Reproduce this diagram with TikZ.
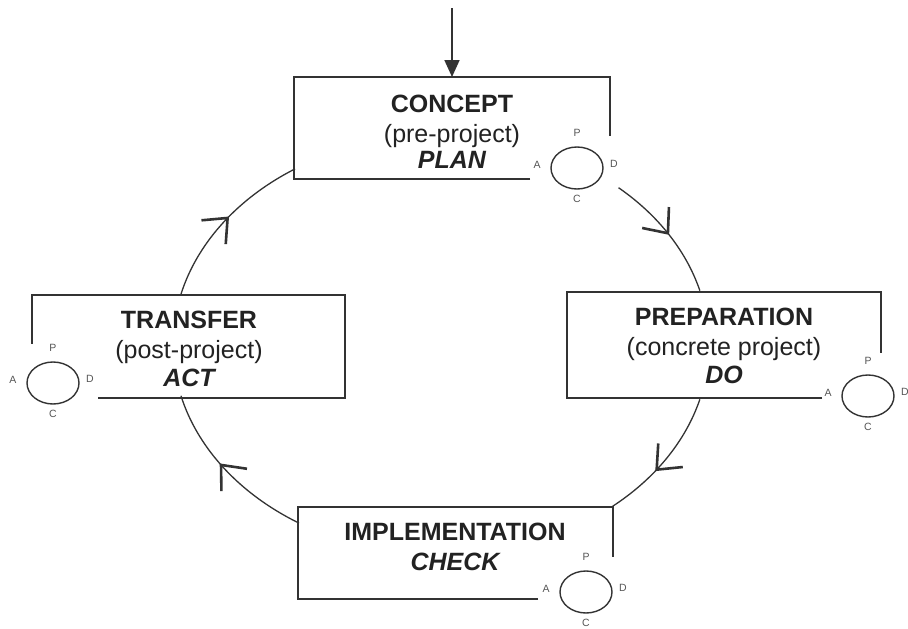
\documentclass[tikz,border=0pt]{standalone}
\usepackage{fontspec}
\setmainfont{Liberation Sans}
\usetikzlibrary{arrows.meta,decorations.markings,shapes.geometric}
\definecolor{ln}{HTML}{333333}
\definecolor{tx}{HTML}{222222}
\definecolor{lt}{HTML}{555555}
\tikzset{
  boxline/.style={draw=ln,line width=1.8pt},
  cycleline/.style={draw=ln,line width=1.3pt},
  pdca/.style={draw=ln,line width=1.4pt,ellipse,minimum width=52pt,minimum height=42pt,inner sep=0pt},
  pdcalbl/.style={text=lt,font=\fontsize{10.5}{12}\selectfont,inner sep=0pt},
  titletext/.style={text=tx,font=\fontsize{25}{30}\selectfont\bfseries,anchor=base,inner sep=0pt},
  subtext/.style={text=tx,font=\fontsize{25}{30}\selectfont,anchor=base,inner sep=0pt},
  phasetext/.style={text=tx,font=\fontsize{25}{30}\selectfont\bfseries\itshape,anchor=base,inner sep=0pt},
  barbat/.style={postaction={decorate},decoration={markings,
     mark=at position #1 with {\arrow[line width=2.6pt]{Straight Barb[length=20pt,width=34pt]}}}}
}
\newcommand{\pdcaset}[2]{%
  \node[pdca] (#1) at (#2) {};
  \node[pdcalbl] (#1P) at ([yshift=35pt]#1.center) {P};
  \node[pdcalbl] (#1C) at ([yshift=-31pt]#1.center) {C};
  \node[pdcalbl] (#1A) at ([xshift=-40pt,yshift=3pt]#1.center) {A};
  \node[pdcalbl] (#1D) at ([xshift=37pt,yshift=4pt]#1.center) {D};
}
\begin{document}
\begin{tikzpicture}[x=1pt,y=-1pt]
\useasboundingbox (0,0) rectangle (908,629);
\fill[white] (0,0) rectangle (908,629);

% top input arrow
\coordinate (in) at (452,8);
\coordinate (conceptTop) at (452,77);
\draw[ln,line width=1.8pt,-{Triangle[length=17pt,width=15pt]}] (in) -- (conceptTop);

% cycle arcs (ellipse centre 441,345; radii 268,210)
\draw[cycleline,barbat=0.53] plot[domain=166:123,samples=60] ({441+268*cos(\x)},{345-210*sin(\x)});
\draw[cycleline,barbat=0.52] plot[domain=48.5:15,samples=60] ({441+268*cos(\x)},{345-210*sin(\x)});
\draw[cycleline,barbat=0.6] plot[domain=-15:-50.5,samples=60] ({441+268*cos(\x)},{345-210*sin(\x)});
\draw[cycleline,barbat=0.56] plot[domain=238:194,samples=60] ({441+268*cos(\x)},{345-210*sin(\x)});

% CONCEPT box
\draw[boxline] (530,179) -- (294,179) -- (294,77) -- (610,77) -- (610,136);
\node[titletext] (concept) at (452,112) {CONCEPT};
\node[subtext] (conceptsub) at (452,142) {(pre-project)};
\node[phasetext] (plan) at (452,168) {PLAN};
\pdcaset{pc}{577,168}

% PREPARATION box
\draw[boxline] (822,398) -- (567,398) -- (567,292) -- (881,292) -- (881,353);
\node[titletext] (prep) at (724,325) {PREPARATION};
\node[subtext] (prepsub) at (724,355) {(concrete project)};
\node[phasetext] (do) at (724,383) {DO};
\pdcaset{pp}{868,396}

% TRANSFER box
\draw[boxline] (98,398) -- (345,398) -- (345,295) -- (32,295) -- (32,344);
\node[titletext] (transfer) at (189,328) {TRANSFER};
\node[subtext] (transfersub) at (189,358) {(post-project)};
\node[phasetext] (act) at (189,386) {ACT};
\pdcaset{pt}{53,383}

% IMPLEMENTATION box
\draw[boxline] (538,599) -- (298,599) -- (298,507) -- (613,507) -- (613,557);
\node[titletext] (impl) at (455,540) {IMPLEMENTATION};
\node[phasetext] (check) at (455,570) {CHECK};
\pdcaset{pi}{586,592}
\end{tikzpicture}
\end{document}
